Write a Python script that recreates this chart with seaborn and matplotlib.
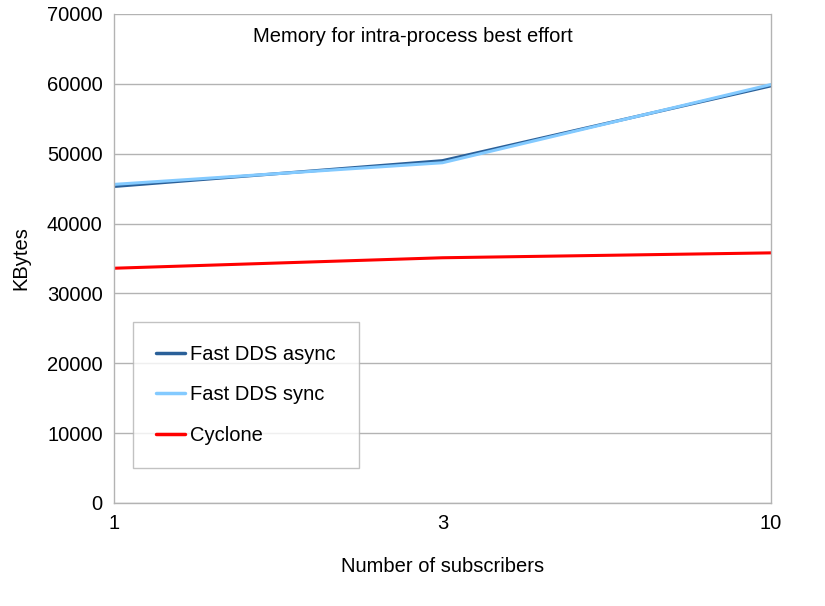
import matplotlib
matplotlib.use("Agg")
import matplotlib.pyplot as plt
import seaborn as sns
import pandas as pd

# Data
subscribers = ["1", "3", "10"]
fast_async = [45300, 49000, 59700]
fast_sync = [45600, 48700, 59900]
cyclone = [33600, 35100, 35800]

series_names = ["Fast DDS async", "Fast DDS sync", "Cyclone"]
colors = ["#2a6099", "#83caff", "#ff0000"]

rows = []
for name, vals in zip(series_names, [fast_async, fast_sync, cyclone]):
    for x, v in zip(subscribers, vals):
        rows.append({"subscribers": x, "kbytes": v, "series": name})
df = pd.DataFrame(rows)

sns.set_style("white")
plt.rcParams['font.family'] = ['Liberation Sans', 'DejaVu Sans']
plt.rcParams['text.color'] = 'black'
plt.rcParams['axes.labelcolor'] = 'black'
plt.rcParams['xtick.labelcolor'] = 'black'
plt.rcParams['ytick.labelcolor'] = 'black'

FS = 14.5

fig, ax = plt.subplots(figsize=(8.25, 6.06), dpi=100)
fig.subplots_adjust(left=0.138, right=0.9345, top=0.977, bottom=0.170)

sns.lineplot(data=df, x="subscribers", y="kbytes", hue="series",
             hue_order=series_names, palette=colors, linewidth=2.2,
             sort=False, ax=ax, legend=False)

ax.set_xlim(0, 2)
ax.set_ylim(0, 70000)
ax.set_yticks(range(0, 70001, 10000))
ax.grid(axis="y", color="#b3b3b3", linewidth=1)
ax.set_axisbelow(True)
for sp in ax.spines.values():
    sp.set_color("#b3b3b3")
    sp.set_linewidth(1)
ax.spines["top"].set_visible(False)
ax.tick_params(axis="both", direction="out", length=5, color="#b3b3b3",
               labelsize=FS, width=1, pad=3)

ax.set_xlabel("Number of subscribers", fontsize=FS, labelpad=17)
ax.set_ylabel("KBytes", fontsize=FS, labelpad=12)

ax.text(0.455, 0.953, "Memory for intra-process best effort", transform=ax.transAxes,
        ha="center", va="center", fontsize=FS)

handles = [plt.Line2D([], [], color=c, linewidth=2.5) for c in colors]
leg = ax.legend(handles, series_names, loc="lower left",
                bbox_to_anchor=(0.029, 0.072), borderaxespad=0,
                fontsize=FS, frameon=True, fancybox=False,
                edgecolor="#b3b3b3", labelspacing=1.05, handlelength=1.45,
                handletextpad=0.25, borderpad=1.15)
leg.get_frame().set_linewidth(1)

plt.savefig("out.png", dpi=100)
